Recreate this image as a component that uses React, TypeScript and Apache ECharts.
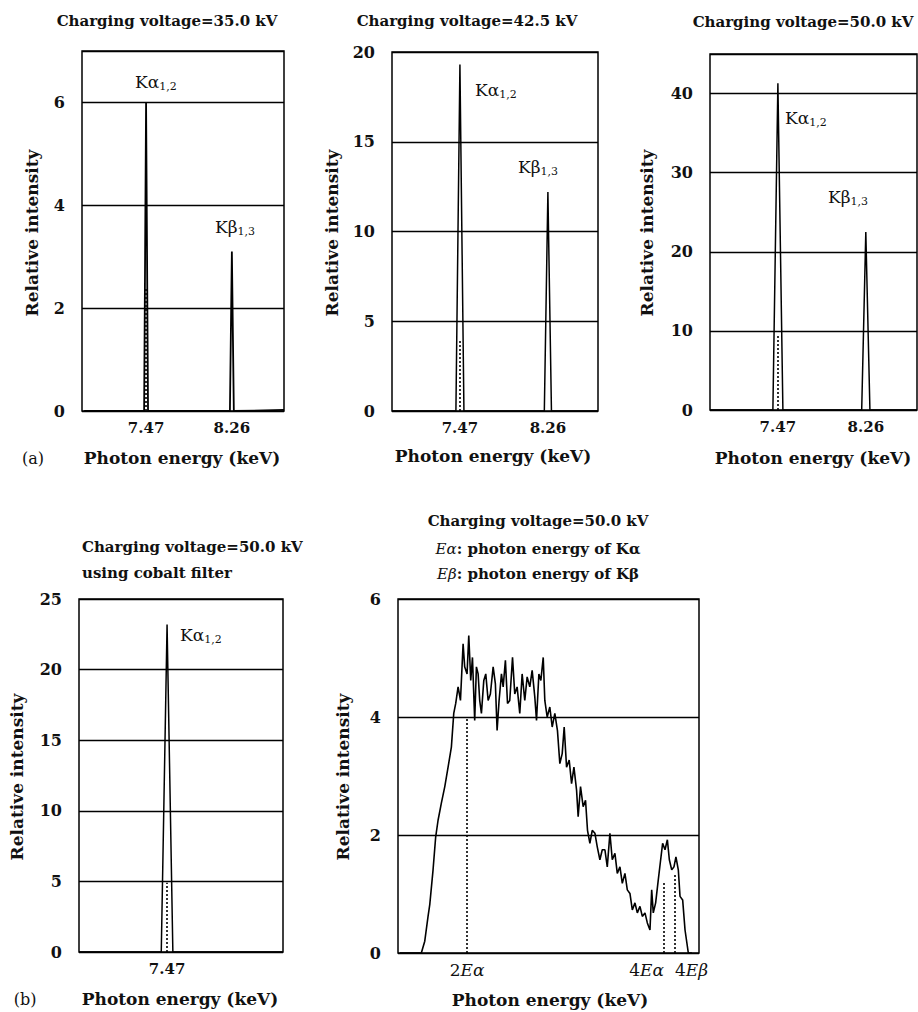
import React, { useEffect, useRef } from "react";
import * as echarts from "echarts";

// ---------- data ----------
// (a) Charging voltage 35.0 kV
const energy35 = [6.9, 7.452, 7.47, 7.488, 8.242, 8.26, 8.278, 8.74];
const intensity35 = [0, 0, 6.0, 0, 0, 3.1, 0, 0.02];
const dotted35 = [[7.47, 2.4]];
// (a) 42.5 kV
const energy425 = [6.86, 7.434, 7.47, 7.506, 8.228, 8.26, 8.292, 8.71];
const intensity425 = [0, 0, 19.3, 0, 0, 12.2, 0, 0];
const dotted425 = [[7.47, 4.0]];
// (a) 50.0 kV
const energy50 = [6.86, 7.425, 7.47, 7.515, 8.223, 8.26, 8.297, 8.72];
const intensity50 = [0, 0, 41.3, 0, 0, 22.5, 0, 0];
const dotted50 = [[7.47, 9.6]];
// (b) 50.0 kV with cobalt filter
const energyCo = [6.68, 7.418, 7.47, 7.522, 8.51];
const intensityCo = [0, 0, 23.2, 0, 0];
const dottedCo = [[7.47, 4.9]];
// (b) 50.0 kV harmonics spectrum
const energyH = [9.85, 11.47, 11.73, 11.98, 12.11, 12.36, 12.56, 12.74, 12.99, 13.25, 13.5, 13.75, 13.93, 14.08, 14.26, 14.44, 14.64, 14.76, 14.94, 15.07, 15.22, 15.35, 15.52, 15.65, 15.78, 15.9, 16.03, 16.21, 16.36, 16.54, 16.71, 16.92, 17.09, 17.22, 17.37, 17.55, 17.68, 17.85, 18.01, 18.18, 18.39, 18.56, 18.74, 18.94, 19.12, 19.32, 19.5, 19.7, 19.88, 20.08, 20.21, 20.39, 20.54, 20.72, 20.84, 21.02, 21.22, 21.4, 21.6, 21.8, 21.98, 22.16, 22.31, 22.49, 22.69, 22.87, 23.05, 23.25, 23.37, 23.55, 23.75, 23.93, 24.08, 24.26, 24.44, 24.64, 24.82, 25.02, 25.2, 25.4, 25.58, 25.78, 25.96, 26.16, 26.34, 26.54, 26.72, 26.92, 27.1, 27.3, 27.48, 27.68, 27.86, 28.06, 28.24, 28.44, 28.62, 28.82, 28.95, 29.07, 29.25, 29.45, 29.63, 29.78, 29.96, 30.14, 30.29, 30.47, 30.64, 30.79, 30.97, 31.1, 31.3, 31.48, 31.73, 32.0];
const intensityH = [0, 0, 0.2, 0.62, 0.82, 1.41, 1.97, 2.25, 2.54, 2.82, 3.15, 3.49, 4.06, 4.23, 4.51, 4.28, 5.24, 4.85, 4.73, 5.38, 4.62, 5.01, 3.94, 4.85, 4.73, 4.28, 4.06, 4.62, 4.73, 4.28, 4.39, 4.85, 4.56, 3.77, 4.28, 4.73, 4.51, 4.96, 4.23, 4.28, 5.01, 4.39, 4.51, 4.06, 4.73, 4.28, 4.68, 4.51, 4.79, 4.34, 3.94, 4.73, 4.62, 5.01, 4.28, 4.0, 4.17, 3.83, 4.06, 3.77, 3.21, 3.38, 3.83, 3.15, 3.27, 2.87, 3.15, 2.76, 2.31, 2.82, 2.48, 2.59, 2.08, 1.86, 2.08, 2.03, 1.8, 1.58, 1.75, 1.75, 1.46, 2.03, 1.58, 1.69, 1.35, 1.46, 1.18, 1.35, 1.07, 1.01, 0.73, 0.85, 0.68, 0.79, 0.62, 0.68, 0.51, 0.39, 1.07, 0.68, 0.85, 1.24, 1.58, 1.86, 1.75, 1.92, 1.58, 1.41, 1.46, 1.63, 1.41, 0.96, 0.9, 0.39, 0, 0];
const dottedH = [[14.94, 4.0], [29.88, 1.2], [30.72, 1.35]];

// tick labels
const peakTicks = [7.47, 8.26];
const peakTicksCo = [7.47];
const harmonicTicks = [14.94, 29.88, 30.72];
const harmonicTickLabels = ["2Eα", "4Eα", "4Eβ"];

const titles = [
  "Charging voltage=35.0 kV",
  "Charging voltage=42.5 kV",
  "Charging voltage=50.0 kV",
];

const FONT = "'DejaVu Serif', 'Liberation Serif', serif";

export default function App() {
  const ref = useRef<HTMLDivElement>(null);

  useEffect(() => {
    document.body.style.margin = "0";
    const chart = echarts.init(ref.current!, null, { renderer: "svg" });

    const grids = [
      { left: 82, top: 51, width: 202, height: 360 },
      { left: 392, top: 52, width: 206, height: 359 },
      { left: 710, top: 54, width: 207, height: 356 },
      { left: 79, top: 599, width: 204, height: 353 },
      { left: 398, top: 599, width: 301, height: 354 },
    ].map((g) => ({ ...g, show: true, borderColor: "#000", borderWidth: 1.5, backgroundColor: "transparent" }));

    const tickFont = { fontFamily: FONT, fontSize: 15, fontWeight: "bold" as const, color: "#111" };
    const italicRich = {
      n: { fontFamily: FONT, fontSize: 17, fontWeight: "normal", color: "#111" },
      i: { fontFamily: FONT, fontSize: 17, fontStyle: "italic", fontWeight: "normal", color: "#111" },
    };

    const baseX = (gridIndex: number, min: number, max: number) => ({
      type: "value",
      gridIndex,
      min,
      max,
      position: "bottom",
      offset: 0,
      axisLine: { show: false },
      axisTick: { show: false },
      splitLine: { show: false },
    });

    const peakX = (i: number, min: number, max: number, ticks: number[]) => ({
      ...baseX(i, min, max),
      axisLabel: { ...tickFont, margin: 9, customValues: ticks, formatter: (v: number) => v.toFixed(2) },
    });

    const harmonicX = (k: number, align: string) => ({
      ...baseX(4, 9.7, 32.54),
      axisLabel: {
        ...tickFont,
        margin: 8,
        align,
        customValues: [harmonicTicks[k]],
        formatter: () => {
          const s = harmonicTickLabels[k];
          return `{n|${s.slice(0, 1)}}{i|${s.slice(1)}}`;
        },
        rich: italicRich,
      },
    });

    const xAxes = [
      peakX(0, 6.88, 8.74, peakTicks),
      peakX(1, 6.86, 8.71, peakTicks),
      peakX(2, 6.86, 8.72, peakTicks),
      peakX(3, 6.68, 8.51, peakTicksCo),
      harmonicX(0, "center"),
      harmonicX(1, "right"),
      harmonicX(2, "left"),
    ];

    const yMax = [7, 20, 45, 25, 6];
    const yInt = [2, 5, 10, 5, 2];
    const yAxes = yMax.map((m, i) => ({
      type: "value",
      gridIndex: i,
      min: 0,
      max: m,
      interval: yInt[i],
      axisLine: { show: false },
      axisTick: { show: false },
      splitLine: { show: true, lineStyle: { color: "#000", width: 1.3 } },
      axisLabel: {
        ...tickFont,
        fontSize: 16,
        margin: 17,
        formatter: (v: number) => (v % yInt[i] === 0 ? String(v) : ""),
      },
    }));

    const zip = (xs: number[], ys: number[]) => xs.map((x, k) => [x, ys[k]]);
    const dots = (d: number[][]) => ({
      silent: true,
      symbol: "none",
      label: { show: false },
      lineStyle: { type: [2, 2], color: "#000", width: 1.6 },
      data: d.map(([x, h]) => [{ coord: [x, 0] }, { coord: [x, h] }]),
    });

    const lineSeries = (i: number, xs: number[], ys: number[], d: number[][], w = 1.5) => ({
      type: "line",
      xAxisIndex: i,
      yAxisIndex: i,
      data: zip(xs, ys),
      symbol: "none",
      lineStyle: { color: "#000", width: w },
      markLine: dots(d),
      z: 3,
    });

    const series = [
      lineSeries(0, energy35, intensity35, dotted35, 1.8),
      lineSeries(1, energy425, intensity425, dotted425),
      lineSeries(2, energy50, intensity50, dotted50),
      lineSeries(3, energyCo, intensityCo, dottedCo),
      lineSeries(4, energyH, intensityH, dottedH, 1.6),
    ];

    const txt = (text: string, x: number, y: number, o: any = {}) => ({
      type: "text",
      x,
      y,
      rotation: o.rotation || 0,
      style: {
        text,
        fontFamily: FONT,
        fontSize: o.size || 15,
        fontWeight: o.weight || "bold",
        fill: "#111",
        align: o.align || "center",
        verticalAlign: "middle",
        rich: o.rich,
      },
    });

    const kRich = {
      m: { fontFamily: FONT, fontSize: 17, lineHeight: 20, fill: "#111" },
      s: { fontFamily: FONT, fontSize: 11, lineHeight: 12, verticalAlign: "bottom", fill: "#111" },
    };
    const kLabel = (greek: string, sub: string, x: number, y: number) =>
      txt(`{m|K${greek}}{s|${sub}}`, x, y, { align: "left", weight: "normal", rich: kRich });

    const eRich = {
      i: { fontFamily: FONT, fontSize: 15, fontStyle: "italic", fontWeight: "normal", fill: "#111" },
      n: { fontFamily: FONT, fontSize: 15, fontWeight: "bold", fill: "#111" },
    };

    const graphic = [
      txt(titles[0], 167, 21),
      txt(titles[1], 467, 21),
      txt(titles[2], 803, 22),
      // y names
      txt("Relative intensity", 32, 233, { rotation: Math.PI / 2, size: 17 }),
      txt("Relative intensity", 332, 233, { rotation: Math.PI / 2, size: 17 }),
      txt("Relative intensity", 647, 233, { rotation: Math.PI / 2, size: 17 }),
      txt("Relative intensity", 17, 777, { rotation: Math.PI / 2, size: 17 }),
      txt("Relative intensity", 343, 777, { rotation: Math.PI / 2, size: 17 }),
      // x names
      txt("Photon energy (keV)", 182, 458, { size: 17 }),
      txt("Photon energy (keV)", 493, 456, { size: 17 }),
      txt("Photon energy (keV)", 813, 458, { size: 17 }),
      txt("Photon energy (keV)", 180, 999, { size: 17 }),
      txt("Photon energy (keV)", 550, 1000, { size: 17 }),
      // panel marks
      txt("(a)", 33, 458, { size: 16, weight: "normal" }),
      txt("(b)", 25, 999, { size: 16, weight: "normal" }),
      // (b) titles
      txt("Charging voltage=50.0 kV", 82, 547, { align: "left" }),
      txt("using cobalt filter", 82, 573, { align: "left" }),
      txt("Charging voltage=50.0 kV", 538, 521),
      txt("{i|Eα}{n|: photon energy of Kα}", 538, 549, { rich: eRich }),
      txt("{i|Eβ}{n|: photon energy of Kβ}", 538, 574, { rich: eRich }),
      // peak labels
      kLabel("α", "1,2", 135, 82),
      kLabel("β", "1,3", 215, 227),
      kLabel("α", "1,2", 475, 90),
      kLabel("β", "1,3", 518, 167),
      kLabel("α", "1,2", 785, 118),
      kLabel("β", "1,3", 828, 197),
      kLabel("α", "1,2", 180, 635),
    ];

    chart.setOption({
      animation: false,
      backgroundColor: "#fff",
      grid: grids,
      xAxis: xAxes,
      yAxis: yAxes,
      series,
      graphic,
    });

    return () => chart.dispose();
  }, []);

  return <div ref={ref} style={{ width: 918, height: 1012 }} />;
}
